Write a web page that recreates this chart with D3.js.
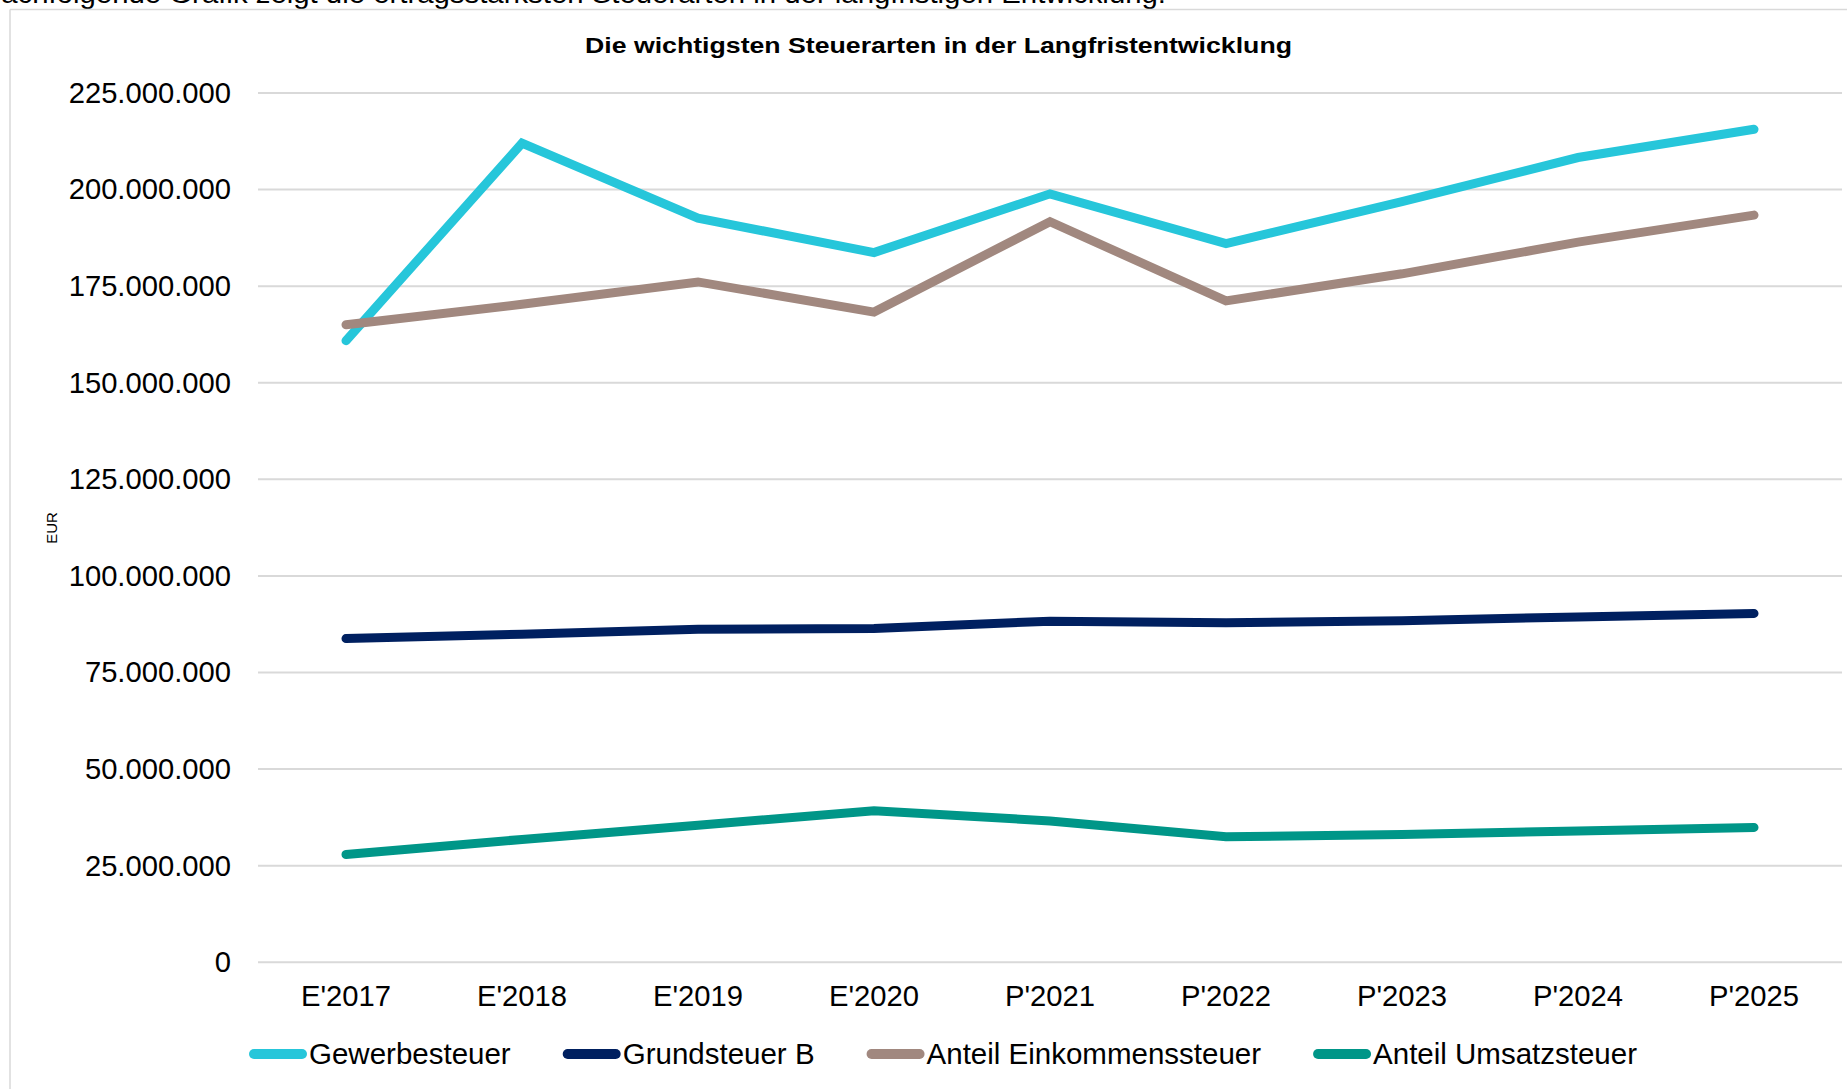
<!DOCTYPE html>
<html>
<head>
<meta charset="utf-8">
<script src="https://cdn.jsdelivr.net/npm/d3@7"></script>
<style>
  html, body { margin: 0; padding: 0; background: #fff; overflow: hidden; }
  svg { display: block; font-family: "Liberation Sans", Arial, sans-serif; }
</style>
</head>
<body>
<svg id="chart" width="1847" height="1089"></svg>
<script>
// ---------- data ----------
const categories = ["E'2017", "E'2018", "E'2019", "E'2020", "P'2021", "P'2022", "P'2023", "P'2024", "P'2025"];
const seriesNames = ["Gewerbesteuer", "Grundsteuer B", "Anteil Einkommenssteuer", "Anteil Umsatzsteuer"];
const gewerbesteuer = [160900000, 212000000, 192600000, 183700000, 198900000, 186000000, 196900000, 208300000, 215600000];
const grundsteuerB = [83800000, 84900000, 86200000, 86400000, 88300000, 87900000, 88400000, 89400000, 90300000];
const einkommensteuer = [165000000, 170300000, 176100000, 168300000, 191700000, 171200000, 178200000, 186400000, 193400000];
const umsatzsteuer = [27900000, 31800000, 35500000, 39200000, 36600000, 32500000, 33100000, 34000000, 34900000];
const yTicks = [0, 25000000, 50000000, 75000000, 100000000, 125000000, 150000000, 175000000, 200000000, 225000000];
const titleText = "Die wichtigsten Steuerarten in der Langfristentwicklung";
const introText = "Nachfolgende Grafik zeigt die ertragsstärksten Steuerarten in der langfristigen Entwicklung:";
const yTitle = "EUR";

const colors = ["#26C6DA", "#002060", "#A1887F", "#009688"];
const values = [gewerbesteuer, grundsteuerB, einkommensteuer, umsatzsteuer];
const series = seriesNames.map((name, i) => ({ name, color: colors[i], values: values[i] }));

// ---------- layout ----------
const svg = d3.select("#chart");
const plot = { left: 258, right: 1842, top: 93, bottom: 962.3 };
const FONT = 29.2;
const LEGFONT = 29.5;

const de = d3.formatLocale({ decimal: ",", thousands: ".", grouping: [3], currency: ["", " €"] });
const fmt = de.format(",.0f");

const x = d3.scaleBand().domain(categories).range([plot.left, plot.right]).padding(0);
const y = d3.scaleLinear().domain([0, 225000000]).range([plot.bottom, plot.top]);
const cx = d => x(d) + x.bandwidth() / 2;

// intro text (cut at top)
svg.append("text")
  .attr("x", -20).attr("y", 3)
  .attr("font-size", 28)
  .attr("fill", "#000")
  .attr("textLength", 1186)
  .attr("lengthAdjust", "spacingAndGlyphs")
  .text(introText);

// frame
svg.append("line").attr("x1", 10).attr("x2", 1847).attr("y1", 9.5).attr("y2", 9.5)
  .attr("stroke", "#D9D9D9").attr("stroke-width", 1.5);
svg.append("line").attr("x1", 10).attr("x2", 10).attr("y1", 9.5).attr("y2", 1089)
  .attr("stroke", "#D9D9D9").attr("stroke-width", 1.5);

// title
svg.append("text")
  .attr("x", 938.5).attr("y", 52.5)
  .attr("text-anchor", "middle")
  .attr("font-size", 22.5).attr("font-weight", "bold")
  .attr("textLength", 707)
  .attr("lengthAdjust", "spacingAndGlyphs")
  .text(titleText);

// gridlines
svg.append("g").selectAll("line").data(yTicks).join("line")
  .attr("x1", plot.left).attr("x2", plot.right)
  .attr("y1", d => y(d)).attr("y2", d => y(d))
  .attr("stroke", "#D9D9D9").attr("stroke-width", 2);

// y axis
const yAxis = d3.axisLeft(y).tickValues(yTicks).tickFormat(fmt).tickSize(0).tickPadding(27);
const gy = svg.append("g").attr("transform", `translate(${plot.left},0)`).call(yAxis);
gy.select(".domain").remove();
gy.selectAll("text").attr("font-size", FONT).attr("fill", "#000")
  .attr("font-family", "Liberation Sans, Arial, sans-serif");

// x axis
const xAxis = d3.axisBottom(x).tickSize(0).tickPadding(23);
const gx = svg.append("g").attr("transform", `translate(0,${plot.bottom})`).call(xAxis);
gx.select(".domain").remove();
gx.selectAll("text").attr("font-size", FONT).attr("fill", "#000")
  .attr("font-family", "Liberation Sans, Arial, sans-serif");

// y title
svg.append("text")
  .attr("transform", "translate(57,528) rotate(-90)")
  .attr("text-anchor", "middle")
  .attr("font-size", 15).attr("fill", "#000")
  .text(yTitle);

// lines
const line = d3.line().x((d, i) => cx(categories[i])).y(d => y(d));
svg.append("g").selectAll("path").data(series).join("path")
  .attr("d", d => line(d.values))
  .attr("fill", "none")
  .attr("stroke", d => d.color)
  .attr("stroke-width", 9)
  .attr("stroke-linecap", "round")
  .attr("stroke-linejoin", "miter");

// legend
const legY = 1054;
const lg = svg.append("g");
let lx = 249;
series.forEach(s => {
  lg.append("line").attr("x1", lx + 5).attr("x2", lx + 53).attr("y1", legY).attr("y2", legY)
    .attr("stroke", s.color).attr("stroke-width", 10).attr("stroke-linecap", "round");
  const t = lg.append("text").attr("x", lx + 60).attr("y", 1064)
    .attr("font-size", LEGFONT).attr("fill", "#000").text(s.name);
  const w = t.node().getComputedTextLength();
  lx = lx + 60 + w + 52;
});
</script>
</body>
</html>
